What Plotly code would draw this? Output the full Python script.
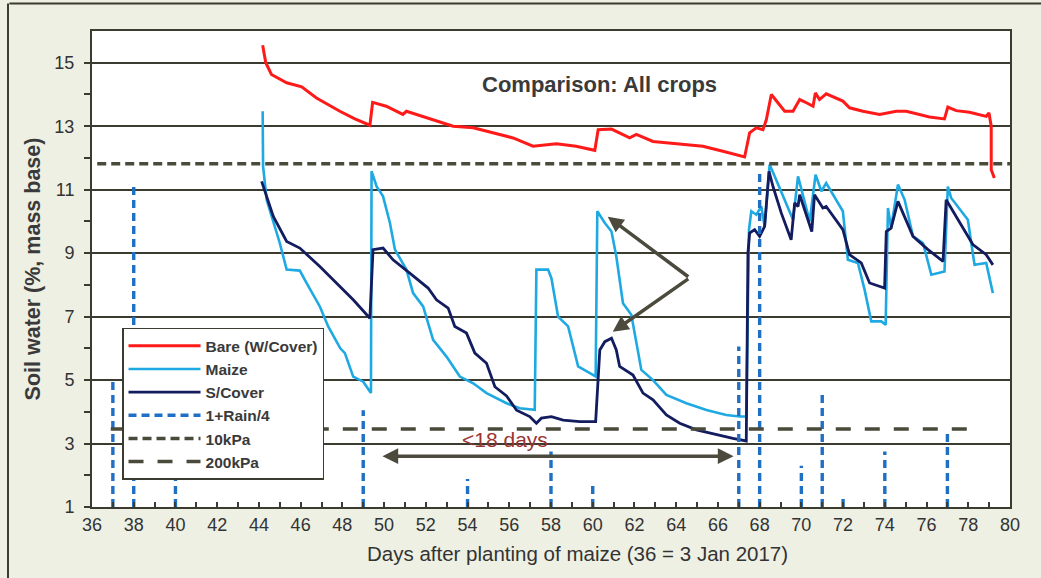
import plotly.graph_objects as go

# ---------------- data ----------------
bare_x = [44.18, 44.33, 44.6, 45.33, 46.05, 46.76, 47.88, 48.6, 49.32, 49.45, 50.1, 50.9, 51.07, 52.03, 53.31,
          54.27, 55.22, 56.18, 57.14, 58.26, 59.2, 60.1, 60.26, 60.9, 61.77, 62.09, 62.89, 64.0, 65.28, 66.24,
          67.28, 67.52, 67.84, 68.16, 68.32, 68.56, 69.2, 69.6, 69.92, 70.24, 70.56, 70.67, 70.87, 71.19, 71.99,
          72.31, 72.95, 73.75, 74.55, 75.03, 76.14, 76.86, 77.02, 77.42, 78.06, 78.86, 78.99, 79.1, 79.1, 79.25]
bare_y = [15.55, 15.0, 14.63, 14.37, 14.24, 13.89, 13.47, 13.23, 13.03, 13.75, 13.63, 13.37, 13.47, 13.26, 13.0,
          12.95, 12.79, 12.63, 12.37, 12.45, 12.37, 12.24, 12.89, 12.91, 12.63, 12.74, 12.52, 12.45, 12.37, 12.21,
          12.03, 12.79, 12.95, 12.89, 13.2, 14.0, 13.47, 13.47, 13.84, 13.74, 13.63, 14.05, 13.84, 14.02, 13.79,
          13.58, 13.47, 13.37, 13.47, 13.47, 13.29, 13.23, 13.6, 13.49, 13.44, 13.31, 13.42, 13.0, 11.63, 11.37]

maize_x = [44.18, 44.2, 44.37, 44.69, 45.0, 45.33, 45.96, 46.28, 46.92, 47.32, 47.65, 47.9, 48.12, 48.52, 49.0,
           49.37, 49.4, 49.64, 49.95, 50.28, 50.52, 51.07, 51.39, 51.87, 52.35, 52.99, 53.63, 54.27, 54.91, 55.5,
           55.87, 56.5, 57.22, 57.3, 57.86, 58.02, 58.34, 58.82, 59.3, 60.01, 60.14, 60.22, 60.58, 60.9, 61.13,
           61.45, 61.85, 62.33, 62.89, 63.53, 64.49, 65.45, 66.4, 67.04, 67.36, 67.49, 67.6, 67.84, 68.08, 68.24,
           68.48, 68.72, 69.6, 69.84, 70.0, 70.4, 70.68, 70.96, 71.19, 71.99, 72.23, 72.71, 73.03, 73.35, 73.83,
           74.04, 74.15, 74.3, 74.63, 74.95, 75.35, 75.83, 76.23, 76.86, 77.02, 77.18, 77.98, 78.3, 78.86, 79.18]
maize_y = [13.47, 11.74, 10.68, 9.95, 9.32, 8.48, 8.45, 8.06, 7.32, 6.69, 6.3, 6.0, 5.85, 5.11, 4.95,
           4.59, 11.58, 11.1, 10.79, 9.95, 9.11, 8.48, 7.74, 7.32, 6.27, 5.74, 5.11, 4.9, 4.59, 4.4,
           4.27, 4.11, 4.06, 8.48, 8.48, 8.21, 7.0, 6.69, 5.43, 5.16, 5.11, 10.32, 9.95, 9.68, 8.9,
           7.42, 7.06, 5.32, 5.0, 4.53, 4.27, 4.06, 3.9, 3.85, 3.85, 9.74, 10.32, 10.21, 10.47, 9.84,
           11.79, 11.42, 10.05, 11.42, 11.0, 10.0, 11.47, 10.95, 11.21, 10.32, 8.79, 8.69, 7.85, 6.85, 6.85,
           6.74, 10.42, 9.79, 11.16, 10.68, 9.53, 9.32, 8.32, 8.42, 11.1, 10.74, 10.05, 8.63, 8.69, 7.74]

cover_x = [44.13, 44.37, 44.69, 45.33, 45.96, 46.92, 47.72, 48.52, 49.32, 49.47, 49.95, 50.43, 51.23, 52.11, 52.51,
           53.07, 53.39, 53.95, 54.35, 54.91, 55.31, 55.87, 56.35, 56.98, 57.3, 57.54, 58.02, 58.58, 59.38, 60.14,
           60.34, 60.58, 60.9, 61.13, 61.29, 61.93, 62.41, 62.89, 63.53, 64.17, 64.97, 65.93, 66.72, 67.36, 67.44,
           67.52, 67.76, 68.0, 68.24, 68.45, 68.64, 69.04, 69.51, 69.68, 69.84, 69.92, 70.5, 70.63, 71.03, 71.19,
           71.99, 72.31, 72.87, 73.27, 73.99, 74.07, 74.3, 74.63, 75.35, 76.07, 76.79, 76.94, 77.26, 78.22, 78.86,
           79.18]
cover_y = [11.26, 10.79, 10.16, 9.37, 9.16, 8.58, 8.06, 7.53, 6.95, 9.11, 9.16, 8.79, 8.37, 7.9, 7.53,
           7.27, 6.69, 6.48, 5.85, 5.53, 4.79, 4.5, 4.05, 3.85, 3.64, 3.8, 3.85, 3.74, 3.69, 3.69,
           5.95, 6.21, 6.32, 5.95, 5.43, 5.16, 4.59, 4.38, 3.9, 3.64, 3.43, 3.27, 3.16, 3.08, 9.0,
           9.63, 9.74, 9.53, 9.84, 11.58, 11.1, 10.26, 9.42, 10.58, 10.47, 10.84, 9.68, 10.84, 10.42, 10.47,
           9.74, 8.95, 8.69, 8.06, 7.9, 9.68, 9.79, 10.63, 9.53, 9.11, 8.74, 10.68, 10.32, 9.27, 8.95,
           8.63]

rain_days = [37, 38, 40, 49, 54, 58, 60, 67, 68, 70, 71, 72, 74, 77]
rain_vals = [5.0, 11.2, 2.4, 4.05, 1.88, 2.75, 1.82, 6.06, 11.53, 2.3, 4.6, 1.28, 2.75, 3.45]  # 1 + Rain/4
rain_base = 1.0

kpa10_x = [36.25, 80.0]
kpa10_y = [11.82, 11.82]
kpa200_x = [36.9, 78.6]
kpa200_y = [3.46, 3.46]

x_ticks = list(range(36, 81, 2))
y_ticks = list(range(1, 16, 2))

# ---------------- build ----------------
DARK = "#3b3b2f"
TXT = "#333333"

rx, ry = [], []
for d, v in zip(rain_days, rain_vals):
    rx += [d, d, None]
    ry += [rain_base, v, None]

fig = go.Figure()
fig.add_trace(go.Scatter(x=bare_x, y=bare_y, mode="lines", name="Bare (W/Cover)",
                         line=dict(color="#ff1a1a", width=3)))
fig.add_trace(go.Scatter(x=maize_x, y=maize_y, mode="lines", name="Maize",
                         line=dict(color="#1fa9e3", width=2.6)))
fig.add_trace(go.Scatter(x=cover_x, y=cover_y, mode="lines", name="S/Cover",
                         line=dict(color="#121c5e", width=2.8)))
fig.add_trace(go.Scatter(x=rx, y=ry, mode="lines", name="1+Rain/4", connectgaps=False,
                         line=dict(color="#1f6fc4", width=3.4, dash="8px,5px")))
fig.add_trace(go.Scatter(x=kpa10_x, y=kpa10_y, mode="lines", name="10kPa",
                         line=dict(color="#4a4a3a", width=3.5, dash="9px,5px")))
fig.add_trace(go.Scatter(x=kpa200_x, y=kpa200_y, mode="lines", name="200kPa",
                         line=dict(color="#4a4a3a", width=3.5, dash="15px,14px")))

arrow_col = "#4b4a3c"
annotations = [
    dict(x=60.33, y=14.31, xref="x", yref="y", text="Comparison: All crops", showarrow=False,
         font=dict(family="Liberation Sans, Arial", size=22, color="#3a3a3a", weight="bold")),
    dict(x=55.8, y=3.12, xref="x", yref="y", text="<18 days", showarrow=False,
         font=dict(family="Liberation Sans, Arial", size=21, color="#9b3333")),
    dict(x=0.529, y=-0.097, xref="paper", yref="paper", xanchor="center", yanchor="middle",
         text="Days after planting of maize (36 = 3 Jan 2017)", showarrow=False,
         font=dict(family="Liberation Sans Narrow, Liberation Sans", size=20.5, color=TXT)),
    dict(x=66.75, y=2.6, ax=49.85, ay=2.6, xref="x", yref="y", axref="x", ayref="y", text="",
         showarrow=True, arrowhead=2, startarrowhead=2, arrowside="end+start", arrowwidth=3.5,
         arrowsize=0.9, startarrowsize=0.9, arrowcolor=arrow_col),
    dict(x=60.72, y=10.15, ax=64.65, ay=8.22, xref="x", yref="y", axref="x", ayref="y", text="",
         showarrow=True, arrowhead=2, arrowwidth=3.5, arrowsize=0.9, arrowcolor=arrow_col),
    dict(x=60.96, y=6.52, ax=64.65, ay=8.22, xref="x", yref="y", axref="x", ayref="y", text="",
         showarrow=True, arrowhead=2, arrowwidth=3.5, arrowsize=0.9, arrowcolor=arrow_col),
]

shapes = [
    dict(type="line", xref="paper", yref="paper", x0=-0.09, x1=1.05, y0=1.058, y1=1.058,
         line=dict(color=DARK, width=2)),
    dict(type="line", xref="paper", yref="paper", x0=-0.0915, x1=-0.0915, y0=-0.2, y1=1.058,
         line=dict(color=DARK, width=2)),
]

fig.update_layout(
    width=1041, height=578,
    margin=dict(l=92, r=31, t=31, b=71),
    paper_bgcolor="#eef0e3",
    plot_bgcolor="#ffffff",
    font=dict(family="Liberation Sans, Arial", color=TXT),
    showlegend=True,
    legend=dict(x=0.0327, y=0.3765, xanchor="left", yanchor="top",
                bgcolor="#ffffff", bordercolor=DARK, borderwidth=1.5,
                font=dict(size=15.5, color="#3a3a3a", weight="bold"),
                itemwidth=72, tracegroupgap=0),
    annotations=annotations,
    shapes=shapes,
    xaxis=dict(range=[36, 80], tickvals=x_ticks, ticks="inside", ticklen=5, tickwidth=1.5,
               tickcolor=DARK, showgrid=False, zeroline=False,
               showline=True, linecolor=DARK, linewidth=2, mirror=True,
               minor=dict(dtick=1, tick0=36, ticks="inside", ticklen=5, tickcolor=DARK, tickwidth=1.5),
               tickfont=dict(family="Liberation Sans Narrow, Liberation Sans", size=18, color=TXT)),
    yaxis=dict(range=[1, 16], tickvals=y_ticks, ticks="outside", ticklen=6, tickwidth=1.5,
               tickcolor=DARK, showgrid=True, gridcolor=DARK, gridwidth=1.5, zeroline=False,
               showline=True, linecolor=DARK, linewidth=2, mirror=True,
               minor=dict(tickvals=list(range(2, 16, 2)), ticks="outside", ticklen=6,
                          tickcolor=DARK, tickwidth=1.5, showgrid=False),
               ticklabelstandoff=6,
               tickfont=dict(size=18, color=TXT),
               title=dict(text="Soil water (%, mass base)", standoff=8,
                          font=dict(size=21.5, color="#3a3a3a", weight="bold"))),
)

fig.write_html("out.html", config={"displayModeBar": False},
               post_script="document.body.style.margin='0px';document.body.style.background='#eef0e3';")
